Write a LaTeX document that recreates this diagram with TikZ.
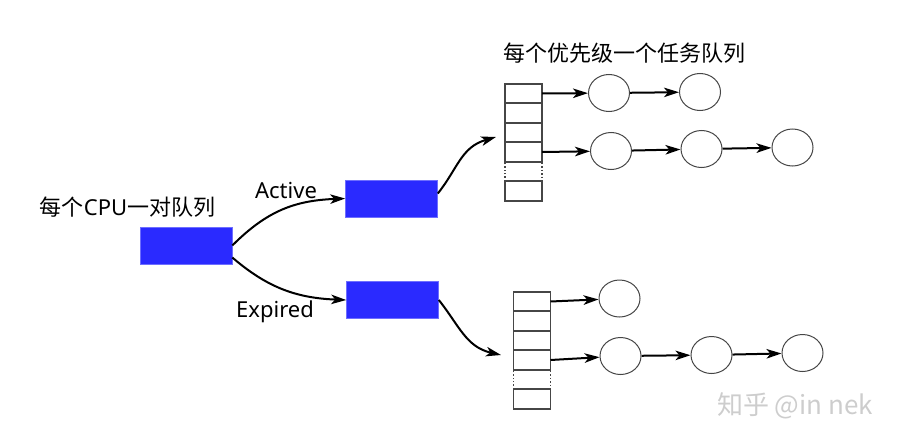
\documentclass[tikz,border=0pt]{standalone}
\usepackage{fontspec}
\setmainfont{Noto Sans}
\newfontfamily\cjk{Noto Sans CJK SC}
\usetikzlibrary{shapes.geometric, arrows.meta, positioning}
\definecolor{myblue}{RGB}{42,42,255}
\definecolor{myedge}{RGB}{110,110,255}
\definecolor{mygray}{RGB}{70,70,70}
\definecolor{mymark}{RGB}{205,205,205}
\tikzset{
  runq/.style={rectangle, draw=myedge, fill=myblue, minimum width=92pt,
    minimum height=37pt, inner sep=0pt, line width=0.6pt},
  cell/.style={rectangle, draw=mygray, minimum width=37pt, minimum height=19.5pt,
    inner sep=0pt, outer sep=0pt, line width=1.6pt},
  gapcell/.style={rectangle, minimum width=37pt, minimum height=19.5pt,
    inner sep=0pt, outer sep=0pt},
  task/.style={ellipse, draw=mygray, minimum width=41pt, minimum height=37pt,
    inner sep=0pt, line width=1pt},
  arrow/.style={-{Stealth[length=15pt, width=9.5pt, inset=4pt]}, line width=2pt},
  txt/.style={font=\fontsize{22}{26}\selectfont},
  cjktxt/.style={font=\cjk\fontsize{22}{26}\selectfont}
}
\begin{document}
\begin{tikzpicture}[x=1pt, y=-1pt]
  \useasboundingbox (0,0) rectangle (901,444);
  % run queues of one cpu
  \node[runq] (cpu) at (186,245.5) {};
  \node[runq] (act) at (391.5,198.5) {};
  \node[runq] (exp) at (392.5,300) {};
  \node[cjktxt] (cpulbl) at (127.5,207) {每个{\normalfont CPU}一对队列};
  \node[txt, anchor=base] (actlbl) at (286,198) {Active};
  \node[txt, anchor=base] (explbl) at (275,317) {Expired};
  \node[cjktxt] (prilbl) at (624,53) {每个优先级一个任务队列};
  \draw[arrow] (cpu.east) .. controls +(35,-35) and +(-50,2) .. (act.west);
  \draw[arrow] ([yshift=-12pt]cpu.east) .. controls +(35,30) and +(-50,-2) .. (exp.west);

  % active priority array
  \node[cell] (qa1) at (523.5,93.5) {};
  \node[cell, below=0pt of qa1] (qa2) {};
  \node[cell, below=0pt of qa2] (qa3) {};
  \node[cell, below=0pt of qa3] (qa4) {};
  \node[gapcell, below=0pt of qa4] (qa5) {};
  \node[cell, below=0pt of qa5] (qa6) {};
  \draw[mygray, dotted, line width=1.4pt] (qa5.south west) -- (qa5.north west)
    -- (qa5.north east) -- (qa5.south east);
  \coordinate (ina) at (496,137);
  \draw[arrow] ([yshift=5pt]act.east) .. controls +(20,-25) and +(-35,10) .. (ina);
  \node[task] (ta1) at (609,93) {};
  \node[task] (ta2) at (700,92) {};
  \node[task] (tb1) at (611,151) {};
  \node[task] (tb2) at (701.5,149) {};
  \node[task] (tb3) at (792.5,147.5) {};
  \draw[arrow] (qa1.east) -- (ta1);
  \draw[arrow] (ta1) -- (ta2);
  \draw[arrow] (qa4.east) -- (tb1);
  \draw[arrow] (tb1) -- (tb2);
  \draw[arrow] (tb2) -- (tb3);

  % expired priority array
  \node[cell] (qe1) at (532,301.5) {};
  \node[cell, below=0pt of qe1] (qe2) {};
  \node[cell, below=0pt of qe2] (qe3) {};
  \node[cell, below=0pt of qe3] (qe4) {};
  \node[gapcell, below=0pt of qe4] (qe5) {};
  \node[cell, below=0pt of qe5] (qe6) {};
  \draw[mygray, dotted, line width=1.4pt] (qe5.south west) -- (qe5.north west)
    -- (qe5.north east) -- (qe5.south east);
  \coordinate (inb) at (501,355);
  \draw[arrow] (exp.east) .. controls +(20,25) and +(-35,-8) .. (inb);
  \node[task] (tc1) at (619.5,298.5) {};
  \node[task] (td1) at (620.5,356) {};
  \node[task] (td2) at (711.5,355) {};
  \node[task] (td3) at (802.5,353) {};
  \draw[arrow] (qe1.east) -- (tc1);
  \draw[arrow] (qe4.east) -- (td1);
  \draw[arrow] (td1) -- (td2);
  \draw[arrow] (td2) -- (td3);

  \node[font=\cjk\fontsize{26}{30}\selectfont, text=mymark] (mark) at (795,406) {知乎 @in nek};
\end{tikzpicture}
\end{document}
